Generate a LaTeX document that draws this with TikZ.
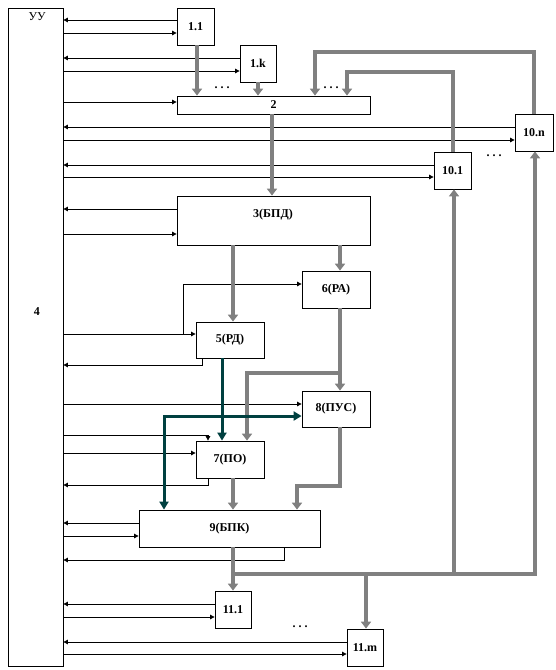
\documentclass[tikz,border=0pt]{standalone}
\usepackage{fontspec}
\setmainfont{Liberation Serif}
\usetikzlibrary{arrows.meta}
\definecolor{gr}{RGB}{128,128,128}
\definecolor{tealdark}{RGB}{0,64,64}
\begin{document}
\begin{tikzpicture}[x=1pt,y=-1pt,
 box/.style={draw=black,line width=0.8pt,fill=white,inner sep=0pt,font=\fontsize{12}{14}\selectfont\bfseries},
 thinarr/.style={line width=0.8pt,-{Triangle[length=4.5pt,width=4.5pt]}},
 gar/.style={draw=gr,line width=4pt,line join=miter,-{Triangle[length=7pt,width=10pt]}},
 tar/.style={draw=tealdark,line width=3pt,line join=miter,-{Triangle[length=8pt,width=9pt]}},
 txt/.style={font=\fontsize{12}{14}\selectfont\bfseries,inner sep=0pt}]
\useasboundingbox[fill=white] (0,0) rectangle (555,670);

% boxes
\node[box,minimum width=55pt,minimum height=658pt] (b4) at (35.5,337) {};
\node[font=\fontsize{12}{14}\selectfont,inner sep=0pt] (luu) at (37,17) {УУ};
\node[txt] (l4) at (37,312) {4};
\node[box,minimum width=37pt,minimum height=37pt] (b11) at (195.5,26.5) {1.1};
\node[box,minimum width=36pt,minimum height=37pt] (b1k) at (258,63.5) {1.k};
\node[box,minimum width=193pt,minimum height=18pt] (b2) at (273.5,105) {2};
\node[box,minimum width=38pt,minimum height=37pt] (b10n) at (534,132.5) {10.n};
\node[box,minimum width=37pt,minimum height=37pt] (b101) at (452.5,170.5) {10.1};
\node[box,minimum width=193pt,minimum height=49pt] (b3) at (273.5,220.5) {};
\node[txt] (l3) at (273,215) {3(БПД)};
\node[box,minimum width=68pt,minimum height=37pt] (b6) at (336,289.5) {6(РА)};
\node[box,minimum width=68pt,minimum height=36pt] (b5) at (230,340) {5(РД)};
\node[box,minimum width=68pt,minimum height=36pt] (b8) at (336,409) {8(ПУС)};
\node[box,minimum width=68pt,minimum height=37pt] (b7) at (230,459.5) {7(ПО)};
\node[box,minimum width=181pt,minimum height=37pt] (b9) at (229.5,528.5) {9(БПК)};
\node[box,minimum width=36pt,minimum height=37pt] (b111) at (233,609.5) {11.1};
\node[box,minimum width=36pt,minimum height=37pt] (b11m) at (365,647.5) {11.m};

% dots
\node[txt] (d1) at (222,88) {.\hspace{3pt}.\hspace{3pt}.};
\node[txt] (d2) at (331,88) {.\hspace{3pt}.\hspace{3pt}.};
\node[txt] (d3) at (494,156) {.\hspace{3pt}.\hspace{3pt}.};
\node[txt] (d4) at (300,627) {.\hspace{3pt}.\hspace{3pt}.};

% thin connectors
\draw[thinarr] (b11.west |- 0,20) -- (b4.east |- 0,20);
\draw[thinarr] (b4.east |- 0,33) -- (b11.west |- 0,33);
\draw[thinarr] (b1k.west |- 0,58) -- (b4.east |- 0,58);
\draw[thinarr] (b4.east |- 0,71) -- (b1k.west |- 0,71);
\draw[thinarr] (b4.east |- 0,102) -- (b2.west |- 0,102);
\draw[thinarr] (b10n.west |- 0,127) -- (b4.east |- 0,127);
\draw[thinarr] (b4.east |- 0,140) -- (b10n.west |- 0,140);
\draw[thinarr] (b101.west |- 0,165) -- (b4.east |- 0,165);
\draw[thinarr] (b4.east |- 0,177) -- (b101.west |- 0,177);
\draw[thinarr] (b3.west |- 0,209) -- (b4.east |- 0,209);
\draw[thinarr] (b4.east |- 0,234) -- (b3.west |- 0,234);
\draw[thinarr] (b4.east |- 0,334) -- (b5.west |- 0,334);
\draw[thinarr] (183,334) -- (183,284) -- (b6.west |- 0,284);
\draw[thinarr] (b5.south -| 202,0) -- (202,365) -- (b4.east |- 0,365);
\draw[thinarr] (b4.east |- 0,404) -- (b8.west |- 0,404);
\draw[thinarr] (b4.east |- 0,435) -- (208,435) -- (b7.north -| 208,0);
\draw[thinarr] (b4.east |- 0,453) -- (b7.west |- 0,453);
\draw[thinarr] (b7.south -| 208,0) -- (208,485) -- (b4.east |- 0,485);
\draw[thinarr] (b9.west |- 0,523) -- (b4.east |- 0,523);
\draw[thinarr] (b4.east |- 0,536) -- (b9.west |- 0,536);
\draw[thinarr] (b9.south -| 284,0) -- (284,560) -- (b4.east |- 0,560);
\draw[thinarr] (b111.west |- 0,604) -- (b4.east |- 0,604);
\draw[thinarr] (b4.east |- 0,617) -- (b111.west |- 0,617);
\draw[thinarr] (b11m.west |- 0,642) -- (b4.east |- 0,642);
\draw[thinarr] (b4.east |- 0,654) -- (b11m.west |- 0,654);

% gray connectors
\draw[gar] (b11.south -| 197,0) -- (b2.north -| 197,0);
\draw[gar] (b1k.south) -- (b2.north -| b1k.south);
\draw[gar] (b2.south -| 272,0) -- (b3.north -| 272,0);
\draw[gar] (b3.south -| 233,0) -- (b5.north -| 233,0);
\draw[gar] (b3.south -| 340,0) -- (b6.north -| 340,0);
\draw[gar] (b6.south -| 340,0) -- (b8.north -| 340,0);
\draw[gar] (340,373) -- (247,373) -- (b7.north -| 247,0);
\draw[gar] (b8.south -| 340,0) -- (340,486) -- (297,486) -- (b9.north -| 297,0);
\draw[gar] (b7.south -| 233,0) -- (b9.north -| 233,0);
\draw[gar] (b9.south -| 233,0) -- (b111.north -| 233,0);
\draw[gar] (233,574) -- (535,574) -- (b10n.south -| 535,0);
\draw[gar] (454,574) -- (b101.south -| 454,0);
\draw[gar] (366,574) -- (b11m.north -| 366,0);
\draw[gar] (b10n.north -| 534,0) -- (534,52) -- (315,52) -- (b2.north -| 315,0);
\draw[gar] (b101.north -| 453,0) -- (453,72) -- (347,72) -- (b2.north -| 347,0);

% dark connectors
\draw[tar] (b5.south -| 222,0) -- (b7.north -| 222,0);
\draw[tar,{Triangle[length=8pt,width=9pt]}-{Triangle[length=8pt,width=9pt]}] (b9.north -| 164,0) -- (164,416) -- (b8.west |- 0,416);
\end{tikzpicture}
\end{document}
